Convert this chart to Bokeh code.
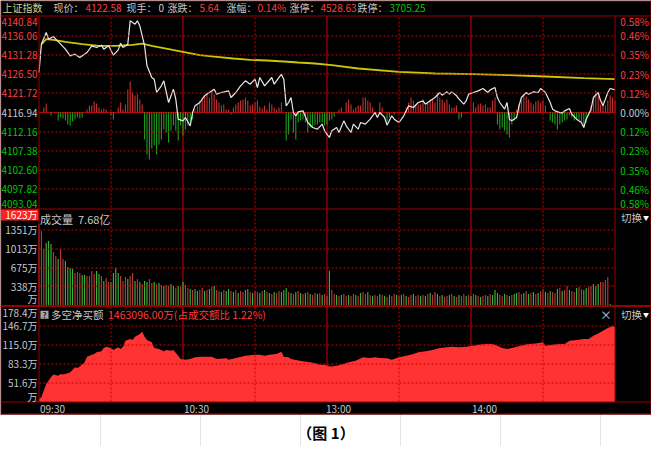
import math
from bokeh.plotting import figure
from bokeh.models import Range1d, ColumnDataSource
from bokeh.core.properties import value
from bokeh.embed import file_html
from bokeh.resources import INLINE

# ---------------------------------------------------------------- data
PREV_CLOSE = 4116.94
CUR_PRICE = 4122.58
CUR_HAND = 0
CHANGE = 5.64
CHANGE_PCT = 0.14
LIMIT_UP = 4528.63
LIMIT_DOWN = 3705.25
VOL_TOTAL = "7.68亿"
NB_TOTAL = 1463096.00
NB_RATIO = 1.22

TIME_TICKS = [0, 60, 120, 180]
TIME_LABELS = ["09:30", "10:30", "13:00", "14:00"]
GRID_SOLID = [60, 120, 180]
GRID_DASH = [30, 90, 150, 210]

PRICE_TICKS = [4140.84, 4136.06, 4131.28, 4126.50, 4121.72, 4116.94,
               4112.16, 4107.38, 4102.60, 4097.82, 4093.04]
VOL_TICKS = [1623, 1351, 1013, 675, 338, 0]
VOL_TICK_LABELS = ["1623万", "1351万", "1013万", "675万", "338万", "万"]
NB_TICKS = [178.4, 146.7, 115.0, 83.3, 51.6, 19.9]
NB_TICK_LABELS = ["178.4万", "146.7万", "115.0万", "83.3万", "51.6万", "万"]

# price line (minute index from 09:30, index value)
PRICE_MIN = [0, 1, 3, 4, 6, 7, 9, 11, 13, 15,
             17, 20, 22, 24, 26, 27, 29, 31, 33, 34,
             35, 37, 38, 40, 41, 42, 44, 45, 47, 48,
             49, 51, 52, 54, 56, 57, 58, 60, 61, 63,
             64, 65, 67, 69, 71, 73, 74, 76, 79, 80,
             82, 84, 86, 88, 90, 91, 92, 94, 97, 98,
             101, 102, 103, 104, 105, 106, 107, 108, 110, 112,
             114, 116, 118, 119, 121, 122, 124, 125, 127, 128,
             130, 131, 133, 134, 136, 138, 140, 141, 142, 144,
             145, 147, 148, 150, 152, 154, 156, 158, 160, 161,
             163, 165, 167, 168, 170, 171, 172, 174, 175, 177,
             178, 179, 181, 183, 185, 187, 188, 190, 191, 192,
             194, 195, 196, 197, 199, 200, 201, 203, 204, 206,
             208, 209, 211, 213, 214, 215, 217, 218, 219, 221,
             222, 224, 226, 227, 228, 230, 231, 233, 234, 235,
             237, 238, 240]
PRICE_VAL = [4126.90, 4133.95, 4136.86, 4135.20, 4135.86, 4135.20, 4133.95, 4132.71, 4131.05, 4131.46,
             4130.63, 4131.88, 4133.54, 4133.12, 4133.70, 4132.71, 4133.54, 4131.21, 4132.54, 4134.20,
             4133.12, 4133.95, 4139.76, 4138.93, 4139.76, 4138.52, 4133.54, 4128.56, 4125.65, 4125.24,
             4121.92, 4123.58, 4124.82, 4119.43, 4122.75, 4120.26, 4115.28, 4114.86, 4115.69, 4113.62,
             4116.94, 4118.60, 4119.43, 4121.09, 4121.92, 4122.75, 4121.50, 4121.92, 4122.33, 4120.67,
             4121.92, 4123.58, 4124.82, 4123.99, 4125.24, 4123.16, 4125.65, 4123.58, 4125.65, 4123.99,
             4126.49, 4125.24, 4118.60, 4119.43, 4120.67, 4116.94, 4116.11, 4117.10, 4117.35, 4114.45,
             4113.20, 4112.79, 4114.04, 4112.38, 4110.72, 4112.38, 4113.20, 4111.96, 4114.86, 4113.62,
             4111.96, 4114.04, 4112.79, 4114.45, 4114.04, 4115.28, 4116.94, 4115.69, 4116.94, 4115.69,
             4113.79, 4116.11, 4115.28, 4114.45, 4116.11, 4118.60, 4118.18, 4119.43, 4119.84, 4119.01,
             4119.84, 4120.67, 4121.92, 4121.25, 4122.08, 4121.50, 4122.08, 4121.09, 4120.26, 4119.01,
             4119.84, 4121.50, 4121.92, 4122.33, 4122.91, 4121.92, 4122.58, 4123.16, 4120.67, 4119.43,
             4117.77, 4119.43, 4115.28, 4114.86, 4115.69, 4118.60, 4120.67, 4121.92, 4121.50, 4122.08,
             4121.92, 4122.91, 4121.92, 4119.43, 4117.77, 4117.35, 4116.94, 4116.77, 4117.35, 4117.93,
             4116.52, 4115.28, 4114.45, 4113.20, 4115.28, 4117.77, 4120.67, 4121.92, 4119.84, 4118.60,
             4121.92, 4122.91, 4122.58]

# average price line
AVG_MIN = [1, 3, 6, 11, 18, 25, 32, 39, 43, 47, 53, 60, 67, 74, 81,
           88, 95, 102, 108, 115, 122, 133, 150, 165, 181, 196, 211, 227, 240]
AVG_VAL = [4133.90, 4135.20, 4135.00, 4134.50, 4133.95, 4133.54, 4133.54, 4133.80, 4134.10,
           4133.54, 4132.87, 4132.04, 4131.21, 4130.80, 4130.38, 4130.05, 4129.88, 4129.64,
           4129.39, 4129.14, 4128.72, 4127.89, 4127.06, 4126.65, 4126.48, 4126.24, 4125.90,
           4125.49, 4125.24]

# red / green lead bars, one per minute (indicator units)
LEAD = [0, 0, 5, 9, 0, -3, 0, 0, -8, -5, -6, -8, -12, -13, -9, -7, -5, -6, -5, 0,
        3, 7, 7, 11, 9, 5, 3, 4, 3, 0, -3, -7, 0, 5, 10, 3, 8, 23, 31, 20,
        17, 18, 13, 8, -27, -42, -47, -36, -33, -42, -32, -27, -17, -20, -30, -18, -13, -18, -28, -13,
        -23, -17, -13, -10, -7, 3, 8, 12, 15, 17, 20, 15, 22, 18, 13, 10, 7, 8, 3, 3,
        -2, 5, 8, 10, 12, 13, 15, 12, 7, 8, 10, 12, 6, 4, 7, 3, 10, 8, 5, 3,
        5, 10, 0, -28, -22, -7, -20, -27, -10, -8, -7, -10, -20, -15, -14, -13, -12, -10, -10, -13,
        -12, -8, -7, -4, 0, 3, 5, 0, 10, 13, 8, 3, 5, 7, 7, 15, 15, 12, 10, 5,
        0, 0, 10, 5, 0, -10, -5, 0, -2, 0, 0, 0, 0, 5, 10, 15, 12, 7, 8, 8,
        13, 7, 10, 13, 13, 10, 20, 15, 13, 10, 13, 8, 5, 5, 7, -7, -5, 0, 0, 0,
        0, 10, 5, 8, 9, 7, 8, 5, 5, 12, 15, -12, -17, -15, -18, -22, -25, -12, -8, 3,
        8, 13, 18, 16, 13, 10, 8, 11, 12, 10, 12, 7, 0, -8, -10, -12, -17, -12, -10, -8,
        -7, -3, -5, -8, -6, -7, -9, -15, -10, -3, 7, 15, 22, 17, 8, 12, 7, 12, 17, 15, 12]

# volume per minute (万)
VOLUME = [1458, 1332, 1008, 1116, 1152, 1098, 954, 882, 828, 1008, 828, 792, 684, 666, 648, 576, 594, 576, 540, 540,
          522, 522, 612, 558, 612, 558, 522, 432, 486, 414, 414, 576, 666, 576, 522, 432, 504, 468, 522, 576,
          432, 468, 414, 378, 432, 414, 468, 396, 414, 378, 396, 360, 342, 360, 342, 378, 342, 306, 342, 324,
          414, 360, 306, 288, 270, 288, 252, 270, 306, 252, 270, 288, 324, 342, 270, 252, 234, 270, 252, 288,
          252, 234, 270, 216, 252, 234, 270, 288, 234, 216, 252, 234, 216, 252, 270, 234, 216, 198, 234, 216,
          252, 234, 270, 306, 234, 216, 198, 234, 252, 216, 198, 216, 234, 198, 180, 216, 198, 216, 180, 198,
          162, 618, 276, 198, 180, 162, 180, 198, 162, 180, 162, 198, 180, 162, 216, 234, 198, 234, 180, 162,
          180, 162, 198, 180, 162, 144, 180, 162, 198, 180, 162, 180, 198, 162, 144, 180, 198, 162, 180, 162,
          180, 162, 198, 216, 180, 234, 198, 162, 180, 144, 162, 180, 198, 162, 144, 180, 162, 198, 162, 180,
          162, 198, 180, 162, 144, 162, 180, 162, 198, 180, 270, 216, 180, 162, 198, 180, 162, 180, 198, 216,
          234, 198, 216, 252, 198, 216, 234, 198, 216, 252, 288, 234, 216, 252, 234, 216, 288, 306, 252, 270,
          342, 270, 252, 234, 306, 324, 288, 270, 306, 324, 342, 378, 342, 378, 414, 414, 450, 504, 18, 0, 0]
# r = up minute, g = down minute
VOL_DIR = ("rrrgggrrgrrggggrrrgg" "rrrrggrgrrggggrrrgrr" "grgrggrrgrgrgrrggrgr"
           "grrgrggrrgrgrgrrgrgg" "rgrgrrggrgrrgrgrgrgr" "rgggrgrgrgrgrgrrgrgr"
           "rgrrgrgrrgrrgrgrrgrg" "rrgrgrgrrgrgrgrrgrrg" "rgrgrrgrgrrgrgrgrrgr"
           "grgrgrrgrgggrrgrgrgg" "rrgrgrgrgrrgrgrrgrgr" "rgrrgrrggrrgggrrrrgrr")

# net buy amount (万)
NB_MIN = [0, 1, 2, 3, 5, 6, 8, 9, 10, 12, 13, 15, 16, 17, 19, 20, 22, 23, 24, 26,
          27, 28, 30, 31, 33, 34, 35, 36, 38, 39, 40, 42, 43, 44, 45, 47, 48, 50, 52, 53,
          55, 56, 58, 59, 61, 63, 65, 68, 72, 74, 78, 79, 82, 86, 90, 92, 94, 96, 99, 101,
          102, 104, 105, 107, 110, 113, 115, 117, 119, 121, 122, 124, 127, 129, 132, 135, 138, 140, 142, 145,
          147, 150, 153, 156, 158, 161, 164, 167, 170, 172, 175, 178, 181, 183, 186, 189, 191, 193, 195, 197,
          199, 202, 204, 207, 210, 211, 214, 217, 219, 221, 224, 227, 229, 231, 233, 235, 237, 239, 240]
NB_VAL = [25.0, 28.0, 39.0, 50.0, 61.1, 65.5, 63.8, 66.6, 65.5, 67.7, 69.4, 77.7, 76.6, 78.8, 86.0, 95.4, 98.7, 99.8, 102.6, 104.2,
          109.8, 112.0, 109.8, 106.4, 110.9, 108.1, 112.0, 121.9, 124.7, 123.0, 128.6, 133.0, 136.9, 128.6, 123.0, 119.2, 109.8, 108.1, 104.2, 106.4,
          105.3, 106.4, 97.0, 91.5, 90.4, 91.5, 94.3, 95.4, 95.4, 91.5, 92.6, 90.4, 93.2, 97.0, 98.7, 98.7, 97.0, 98.7, 99.8, 103.7,
          95.4, 94.3, 91.5, 89.8, 87.6, 86.0, 84.3, 82.1, 82.1, 78.8, 78.8, 80.4, 83.2, 86.0, 88.7, 94.3, 93.2, 94.3, 93.2, 92.6,
          90.4, 94.3, 97.0, 99.8, 102.6, 104.2, 106.4, 109.8, 110.9, 112.0, 110.9, 112.0, 113.6, 115.3, 116.4, 116.4, 113.6, 109.8, 108.1, 109.8,
          112.0, 114.7, 116.4, 117.5, 119.2, 113.6, 115.3, 116.4, 116.4, 121.9, 123.0, 124.7, 124.7, 130.2, 134.1, 138.5, 143.0, 146.3, 145.2]

# ---------------------------------------------------------------- layout (px from top-left)
W, H = 651, 446
X0, X1 = 38.5, 614.5          # plot frame left / right
N_MIN = 240
PXM = (X1 - X0) / N_MIN
PR_TOP, PR_BOT = 16.0, 208.0
VOL_TOP, VOL_BOT = 209.0, 304.5
VOL_PER_PX = 18.0
NB_TOP, NB_BOT = 306.3, 401.5
BOX_BOT = 414.0
HEAD_Y = 7.0
TIME_Y = 408.0
DASH_ON, DASH_PERIOD = 2, 4   # px

BLACK = "#000000"
FRAME = "#990000"
GRIDC = "#d00000"
TXT_GRAY = "#c8c8c8"
TXT_RED = "#ff3c3c"
TXT_GREEN = "#00c800"
TXT_YEL = "#d2d28c"
UP = "#c83232"
DOWN = "#1ea01e"
VOL_UP = "#c03c3c"
VOL_DN = "#3cbe3c"
PRICE_C = "#e8e8e8"
AVG_C = "#c8c800"
NB_C = "#ff3333"
FONT = value("Noto Sans CJK SC")


def vrange(v_a, px_a, v_b, px_b):
    k = (v_a - v_b) / (px_b - px_a)
    return Range1d(start=v_a - (H - px_a) * k, end=v_a + px_a * k)


def crisp(v):
    return math.floor(v) + 0.5


base_px = PR_TOP + (PRICE_TICKS[0] - PREV_CLOSE) / (PRICE_TICKS[0] - PRICE_TICKS[-1]) * (PR_BOT - PR_TOP)

p = figure(width=W, height=H, x_range=Range1d(0, W), y_range=Range1d(H, 0),
           min_border=0, toolbar_location=None, output_backend="svg",
           x_axis_location=None, y_axis_location=None)
p.title.visible = False
p.outline_line_color = None
p.background_fill_color = "white"
p.border_fill_color = "white"

p.extra_x_ranges = {"t": Range1d(-X0 / PXM, (W - X0) / PXM)}
p.extra_y_ranges = {
    "price": vrange(PRICE_TICKS[0], PR_TOP, PRICE_TICKS[-1], PR_BOT),
    "lead": vrange(0, base_px, 1, base_px - 1),
    "vol": vrange(0, VOL_BOT, VOL_PER_PX, VOL_BOT - 1),
    "nb": vrange(NB_TICKS[0], NB_TOP, NB_TICKS[-1], NB_BOT),
}

# black chart box
p.quad(left=[0], right=[W], top=[0], bottom=[BOX_BOT], fill_color=BLACK, line_color=None)

# solid grid lines
p.segment(x0=[0], x1=[N_MIN], y0=[PREV_CLOSE], y1=[PREV_CLOSE], x_range_name="t",
          y_range_name="price", line_color="#b40000", line_width=1.2)
p.segment(x0=GRID_SOLID, x1=GRID_SOLID, y0=[PR_TOP - 0.5] * 3, y1=[NB_BOT] * 3, x_range_name="t",
          line_color=FRAME, line_width=1.4)

# ---- data
mins = list(range(len(LEAD)))
lead_src = ColumnDataSource(dict(x=mins, top=LEAD, c=[UP if v > 0 else DOWN for v in LEAD]))
p.vbar(x="x", top="top", bottom=0, width=0.45, fill_color="c", line_color=None,
       source=lead_src, x_range_name="t", y_range_name="lead")

vol_src = ColumnDataSource(dict(x=list(range(len(VOLUME))), top=VOLUME,
                                c=[VOL_UP if d == "r" else VOL_DN for d in VOL_DIR]))
p.vbar(x="x", top="top", bottom=0, width=0.45, fill_color="c", line_color=None,
       source=vol_src, x_range_name="t", y_range_name="vol")

p.varea(x=NB_MIN, y1=NB_TICKS[-1], y2=NB_VAL, fill_color=NB_C, x_range_name="t", y_range_name="nb")

p.line(AVG_MIN, AVG_VAL, line_color=AVG_C, line_width=1.8, x_range_name="t", y_range_name="price")
p.line(PRICE_MIN, PRICE_VAL, line_color=PRICE_C, line_width=1.2, x_range_name="t", y_range_name="price")

# ---- frame lines
p.segment(x0=[0] * 3, x1=[W] * 3, y0=[PR_TOP - 0.5, PR_BOT + 0.5, NB_BOT], y1=[PR_TOP - 0.5, PR_BOT + 0.5, NB_BOT],
          line_color=FRAME, line_width=1)
p.segment(x0=[0], x1=[W], y0=[VOL_BOT + 1], y1=[VOL_BOT + 1], line_color=FRAME, line_width=2)
p.segment(x0=[X0, X1], x1=[X0, X1], y0=[PR_TOP - 0.5] * 2, y1=[NB_BOT] * 2, line_color=FRAME, line_width=1)
p.segment(x0=[0.5, W - 0.5, 0, 0], x1=[0.5, W - 0.5, W, W], y0=[0, 0, 0.5, BOX_BOT - 0.5],
          y1=[BOX_BOT, BOX_BOT, 0.5, BOX_BOT - 0.5], line_color=FRAME, line_width=1)

# ---- dashed grid, drawn as short pixel-aligned strokes in screen-pixel coordinates
h_levels = []
for t in PRICE_TICKS[1:-1]:
    if abs(t - PREV_CLOSE) > 1e-6:
        h_levels.append(PR_TOP + (PRICE_TICKS[0] - t) / (PRICE_TICKS[0] - PRICE_TICKS[-1]) * (PR_BOT - PR_TOP))
for v in VOL_TICKS[1:-1]:
    h_levels.append(VOL_BOT - v / VOL_PER_PX)
for v in NB_TICKS[1:-1]:
    h_levels.append(NB_TOP + (NB_TICKS[0] - v) / (NB_TICKS[0] - NB_TICKS[-1]) * (NB_BOT - NB_TOP))
gx0, gx1, gy0, gy1 = [], [], [], []
for lv in h_levels:
    yy = crisp(lv)
    xs = int(X0) + 1
    while xs < X1 - 1:
        gx0.append(xs)
        gx1.append(min(xs + DASH_ON, X1))
        gy0.append(yy)
        gy1.append(yy)
        xs += DASH_PERIOD
for m in GRID_DASH:
    xx = crisp(X0 + m * PXM)
    for top, bot in [(PR_TOP, PR_BOT), (VOL_TOP, VOL_BOT), (NB_TOP, NB_BOT)]:
        ys = int(top) + 1
        while ys < bot - 1:
            gx0.append(xx)
            gx1.append(xx)
            gy0.append(ys)
            gy1.append(min(ys + DASH_ON, bot))
            ys += DASH_PERIOD
p.segment(x0=gx0, x1=gx1, y0=gy0, y1=gy1, line_color=GRIDC, line_width=1)

# red background of the volume maximum label
p.quad(left=[0.5], right=[X0 - 0.5], top=[VOL_TOP], bottom=[VOL_TOP + 11], fill_color="#ff2020", line_color=None)
# "?" icon box
p.quad(left=[X0 + 1.5], right=[X0 + 9.5], top=[NB_TOP + 4], bottom=[NB_TOP + 12], fill_color="#a8a8a8", line_color=None)


def texts(x, y, t, color, size="10px", align="left", baseline="middle", xr="default", yr="default",
          xo=None, yo=None, style="normal"):
    n = len(t)
    src = ColumnDataSource(dict(x=x, y=y, t=t,
                                c=color if isinstance(color, list) else [color] * n,
                                xo=xo if xo is not None else [0] * n,
                                yo=yo if yo is not None else [0] * n))
    p.text(x="x", y="y", text="t", text_color="c", x_offset="xo", y_offset="yo", source=src,
           text_font=FONT, text_font_size=size, text_font_style=style, text_align=align,
           text_baseline=baseline, x_range_name=xr, y_range_name=yr)


# price axis labels (left) and percent labels (right)
pc = [TXT_RED if t > PREV_CLOSE + 1e-6 else (TXT_GREEN if t < PREV_CLOSE - 1e-6 else TXT_GRAY) for t in PRICE_TICKS]
edge_off = [5] + [0] * (len(PRICE_TICKS) - 2) + [-5]
texts([X0 - 1.5] * len(PRICE_TICKS), PRICE_TICKS, [f"{t:.2f}" for t in PRICE_TICKS], pc,
      align="right", yr="price", yo=edge_off)
texts([W - 2.5] * len(PRICE_TICKS), PRICE_TICKS,
      [f"{abs(t - PREV_CLOSE) / PREV_CLOSE * 100:.2f}%" for t in PRICE_TICKS], pc,
      align="right", yr="price", yo=edge_off)

# volume labels
vc = ["#ffffff"] + [TXT_GRAY] * (len(VOL_TICKS) - 1)
texts([X0 - 1.5] * len(VOL_TICKS), VOL_TICKS, VOL_TICK_LABELS, vc, align="right", yr="vol",
      yo=[0] * (len(VOL_TICKS) - 1) + [-7])
# net buy labels
texts([X0 - 1.5] * len(NB_TICKS), NB_TICKS, NB_TICK_LABELS, TXT_GRAY, align="right", yr="nb",
      yo=[6] + [0] * (len(NB_TICKS) - 2) + [-6])

# time labels
texts(TIME_TICKS, [TIME_Y] * len(TIME_TICKS), TIME_LABELS, TXT_GRAY, xr="t", xo=[1, 1, -1, 1])

# header
head_t = ["上证指数", "现价：", f"{CUR_PRICE:.2f}", "现手：", f"{CUR_HAND}", "涨跌：", f"{CHANGE:.2f}",
          "涨幅：", f"{CHANGE_PCT:.2f}%", "涨停：", f"{LIMIT_UP:.2f}", "跌停：", f"{LIMIT_DOWN:.2f}"]
head_x = [2, 53, 85, 126, 158, 167, 199, 226, 257, 289, 320, 357, 389]
head_c = [TXT_YEL, TXT_GRAY, TXT_RED, TXT_GRAY, TXT_GRAY, TXT_GRAY, TXT_RED, TXT_GRAY, TXT_RED,
          TXT_GRAY, TXT_RED, TXT_GRAY, TXT_GREEN]
texts(head_x, [HEAD_Y] * len(head_t), head_t, head_c, size="10px")

# panel titles
texts([X0 + 1, X0 + 39], [VOL_TOP + 9] * 2, ["成交量", VOL_TOTAL], TXT_GRAY, size="11px")
texts([X0 + 5.5], [NB_TOP + 8], ["?"], "#202020", size="8px", align="center", style="bold")
texts([X0 + 12, X0 + 69], [NB_TOP + 8] * 2,
      ["多空净买额", f"{NB_TOTAL:.2f}万(占成交额比 {NB_RATIO:.2f}%)"], [TXT_GRAY, TXT_RED], size="10.5px")
texts([X1 - 9], [NB_TOP + 8], ["×"], TXT_GRAY, size="12px", align="center")
texts([X1 + 6, X1 + 6], [VOL_TOP + 8, NB_TOP + 8], ["切换", "切换"], TXT_GRAY, size="10.5px")
texts([X1 + 31, X1 + 31], [VOL_TOP + 8, NB_TOP + 8], ["▼", "▼"], "#ffffff", size="6px", align="center")

# caption
texts([W / 2], [432], ["（图 1）"], "#000000", size="15px", align="center", style="bold")

open("out.html", "w", encoding="utf-8").write(file_html(p, INLINE))
